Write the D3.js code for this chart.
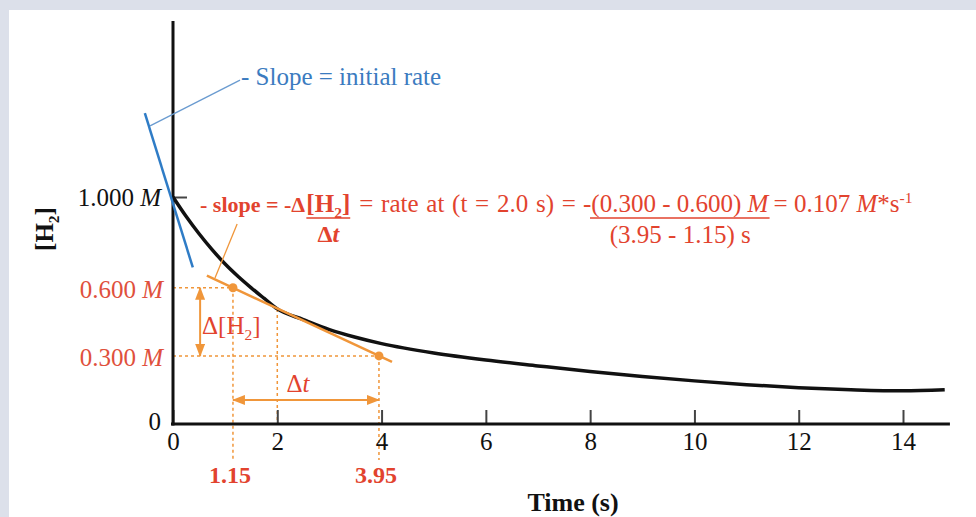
<!DOCTYPE html>
<html><head><meta charset="utf-8">
<script src="https://cdn.jsdelivr.net/npm/d3@7"></script>
<style>
html,body{margin:0;padding:0;background:#dce0ea;}
svg{display:block;}
text{font-family:"Liberation Serif","Times New Roman",serif;}
</style></head><body>
<svg id="chart" width="976" height="517"></svg>
<script>
// ---------- data ----------
const timeValues = [0, 0.25, 0.5, 0.75, 1, 1.25, 1.5, 1.75, 2, 2.5, 3, 3.5, 4, 5, 6, 7, 8, 9, 10, 11, 12, 13, 14, 14.8];
const concValues = [1.0, 0.915, 0.838, 0.768, 0.705, 0.65, 0.6, 0.553, 0.507, 0.46, 0.416, 0.382, 0.354, 0.313, 0.282, 0.256, 0.231, 0.209, 0.19, 0.173, 0.16, 0.151, 0.146, 0.151];
const xTickValues = [0, 2, 4, 6, 8, 10, 12, 14];
const yTickValues = [1.0];
const markedTimes = [1.15, 3.95];
const markedConc = [0.600, 0.300];
const tangentTime = 2.0;
const tangentLineTimes = [0.65, 4.2];
const initialTangentTimes = [-0.54, 0.38];
const initialTangentConc = [1.37, 0.69];
const blueLeaderTimes = [-0.44, 1.285];
const blueLeaderConc = [1.313, 1.515];
const orangeLeaderTimes = [0.805, 1.23];
const orangeLeaderConc = [0.643, 0.881];
const deltaConcArrowTime = 0.52;
const deltaTimeArrowConc = 0.106;

// ---------- setup ----------
const RED = "#e2432e", RED_LBL = "#e0503c", ORANGE = "#f0963a", BLUE = "#2f7cc6", BLUE_TXT = "#3b7bc0", BLUE_LEAD = "#6a9bd0", INK = "#111";
const FS = 25;
const svg = d3.select("#chart");
svg.append("rect").attr("x", 9).attr("y", 10).attr("width", 967).attr("height", 507).attr("fill", "#fff");

const x = d3.scaleLinear().domain([0, 14]).range([173, 903]);
const y = d3.scaleLinear().domain([0, 1]).range([424, 197]);

const defs = svg.append("defs");
defs.append("marker").attr("id", "arr").attr("markerUnits", "userSpaceOnUse")
  .attr("markerWidth", 13).attr("markerHeight", 10).attr("refX", 12).attr("refY", 5)
  .attr("orient", "auto-start-reverse")
  .append("path").attr("d", "M0,0 L13,5 L0,10 Z").attr("fill", ORANGE);

// ---------- guides ----------
const guides = svg.append("g").attr("stroke", ORANGE).attr("stroke-width", 1.5).attr("stroke-dasharray", "3,3");
markedConc.forEach((c, i) => {
  guides.append("line").attr("x1", x(0)).attr("x2", x(markedTimes[i])).attr("y1", y(c)).attr("y2", y(c));
  guides.append("line").attr("x1", x(markedTimes[i])).attr("x2", x(markedTimes[i]))
    .attr("y1", y(c)).attr("y2", y(0) + 36);
});
const idx2 = timeValues.indexOf(tangentTime);
guides.append("line").attr("x1", x(tangentTime)).attr("x2", x(tangentTime))
  .attr("y1", y(concValues[idx2])).attr("y2", y(0));

// arrows
svg.append("line").attr("x1", x(deltaConcArrowTime)).attr("x2", x(deltaConcArrowTime))
  .attr("y1", y(markedConc[0])).attr("y2", y(markedConc[1]))
  .attr("stroke", ORANGE).attr("stroke-width", 2)
  .attr("marker-start", "url(#arr)").attr("marker-end", "url(#arr)");
svg.append("line").attr("x1", x(markedTimes[0])).attr("x2", x(markedTimes[1]))
  .attr("y1", y(deltaTimeArrowConc)).attr("y2", y(deltaTimeArrowConc))
  .attr("stroke", ORANGE).attr("stroke-width", 2)
  .attr("marker-start", "url(#arr)").attr("marker-end", "url(#arr)");

// ---------- axes ----------
const xAxis = d3.axisBottom(x).tickValues(xTickValues).tickSize(-14).tickPadding(8).tickFormat(d3.format("d"));
const gx = svg.append("g").attr("transform", `translate(0,${y(0)})`).call(xAxis);
gx.select(".domain").remove();
gx.selectAll(".tick line").attr("stroke", "#444").attr("stroke-width", 2);
gx.selectAll(".tick text").attr("font-family", '"Liberation Serif",serif').attr("font-size", FS).attr("fill", INK);

const yAxis = d3.axisRight(y).tickValues(yTickValues).tickSize(14).tickFormat("");
const gy = svg.append("g").attr("transform", `translate(${x(0)},0)`).call(yAxis);
gy.select(".domain").remove();
gy.selectAll(".tick line").attr("stroke", "#444").attr("stroke-width", 2);

svg.append("line").attr("x1", x(0) - 2).attr("x2", x(14.9)).attr("y1", y(0)).attr("y2", y(0))
  .attr("stroke", INK).attr("stroke-width", 3);
svg.append("line").attr("x1", x(0)).attr("x2", x(0)).attr("y1", y(0) + 1.5).attr("y2", y(1.775))
  .attr("stroke", INK).attr("stroke-width", 3);

// ---------- rich text helper ----------
function rich(sel, parts, size) {
  let shift = 0;
  parts.forEach(p => {
    const ts = sel.append("tspan").text(p.t);
    const target = p.sub ? 6 : p.sup ? -9 : 0;
    if (target !== shift) { ts.attr("dy", target - shift); shift = target; }
    if (p.sub || p.sup) ts.attr("font-size", size * 0.62);
    if (p.i) ts.attr("font-style", "italic");
    if (p.b) ts.attr("font-weight", "bold");
  });
  return sel;
}
function txt(xp, yp, parts, opts = {}) {
  const size = opts.size || FS;
  const t = svg.append("text").attr("x", xp).attr("y", yp)
    .attr("font-size", size).attr("fill", opts.fill || INK)
    .attr("text-anchor", opts.anchor || "start");
  if (opts.bold) t.attr("font-weight", "bold");
  if (opts.transform) t.attr("transform", opts.transform);
  return rich(t, parts, size);
}

// y labels
yTickValues.forEach(v => txt(161, y(v) + 9, [{ t: d3.format(".3f")(v) + " " }, { t: "M", i: 1 }], { anchor: "end" }));
markedConc.forEach(c => txt(163, y(c) + 10, [{ t: d3.format(".3f")(c) + " " }, { t: "M", i: 1 }], { anchor: "end", fill: RED_LBL }));
txt(161, y(0) + 6, [{ t: "0" }], { anchor: "end" });

// marked time labels
markedTimes.forEach(t => txt(x(t) - 3, y(0) + 59, [{ t: d3.format(".2f")(t) }], { anchor: "middle", fill: RED, bold: true, size: 24 }));

// axis titles
txt(573, 511, [{ t: "Time (s)" }], { anchor: "middle", bold: true, size: 26 });
txt(0, 0, [{ t: "[H" }, { t: "2", sub: 1 }, { t: "]" }], { anchor: "middle", bold: true, transform: "translate(53,229) rotate(-90)" });

// ---------- marks ----------
const line = d3.line().x((d, i) => x(timeValues[i])).y(d => y(d)).curve(d3.curveMonotoneX);
svg.append("path").attr("d", line(concValues)).attr("fill", "none").attr("stroke", INK).attr("stroke-width", 3.5);

const slope = (markedConc[1] - markedConc[0]) / (markedTimes[1] - markedTimes[0]);
const tangentY = t => markedConc[0] + slope * (t - markedTimes[0]);
svg.append("line").attr("x1", x(tangentLineTimes[0])).attr("x2", x(tangentLineTimes[1]))
  .attr("y1", y(tangentY(tangentLineTimes[0]))).attr("y2", y(tangentY(tangentLineTimes[1])))
  .attr("stroke", ORANGE).attr("stroke-width", 2.5);
svg.selectAll("circle.dot").data(markedTimes).enter().append("circle")
  .attr("cx", d => x(d)).attr("cy", (d, i) => y(markedConc[i])).attr("r", 4.5).attr("fill", ORANGE);

svg.append("line").attr("x1", x(orangeLeaderTimes[0])).attr("x2", x(orangeLeaderTimes[1]))
  .attr("y1", y(orangeLeaderConc[0])).attr("y2", y(orangeLeaderConc[1]))
  .attr("stroke", ORANGE).attr("stroke-width", 1.3);

svg.append("line").attr("x1", x(initialTangentTimes[0])).attr("x2", x(initialTangentTimes[1]))
  .attr("y1", y(initialTangentConc[0])).attr("y2", y(initialTangentConc[1]))
  .attr("stroke", BLUE).attr("stroke-width", 2.5);
svg.append("line").attr("x1", x(blueLeaderTimes[0])).attr("x2", x(blueLeaderTimes[1]))
  .attr("y1", y(blueLeaderConc[0])).attr("y2", y(blueLeaderConc[1]))
  .attr("stroke", BLUE_LEAD).attr("stroke-width", 1.3);

// ---------- annotations ----------
txt(241, 85, [{ t: "- Slope = initial rate" }], { fill: BLUE_TXT });

txt(202, 334, [{ t: "Δ[H" }, { t: "2", sub: 1 }, { t: "]" }], { fill: RED });
txt(298, 392, [{ t: "Δ" }, { t: "t", i: 1 }], { fill: RED, anchor: "middle" });

const baseY = 212;
const s1 = txt(200, baseY, [{ t: "- slope = -Δ" }], { fill: RED, bold: true, size: 22 });
const hX = 200 + s1.node().getBBox().width + 1;
const hT = txt(hX, baseY, [{ t: "[H" }, { t: "2", sub: 1 }, { t: "]" }], { fill: RED, bold: true, size: 25 });
const hW = hT.node().getBBox().width;
svg.append("line").attr("x1", hX).attr("x2", hX + hW).attr("y1", baseY + 6).attr("y2", baseY + 6).attr("stroke", RED).attr("stroke-width", 1.6);
txt(hX + hW / 2, 242, [{ t: "Δ" }, { t: "t", i: 1 }], { fill: RED, bold: true, anchor: "middle", size: 24 });
const rX = hX + hW + 9;
const rT = txt(rX, baseY, [{ t: "= rate at (t = 2.0 s) =" }], { fill: RED }).attr("word-spacing", 1.5);
const rEnd = rX + rT.node().getBBox().width;
const numX = Math.max(583, rEnd + 6);
const numT = txt(numX, baseY, [{ t: "-(0.300 - 0.600) " }, { t: "M", i: 1 }], { fill: RED });
const nW = numT.node().getBBox().width;
svg.append("line").attr("x1", numX + 7).attr("x2", numX + nW).attr("y1", baseY + 6).attr("y2", baseY + 6).attr("stroke", RED).attr("stroke-width", 1.6);
txt(numX + nW / 2 + 4, 243, [{ t: "(3.95 - 1.15) s" }], { fill: RED, anchor: "middle" });
txt(numX + nW + 4, baseY, [{ t: "= 0.107 " }, { t: "M", i: 1 }, { t: "*s" }, { t: "-1", sup: 1 }], { fill: RED });
</script>
</body></html>
